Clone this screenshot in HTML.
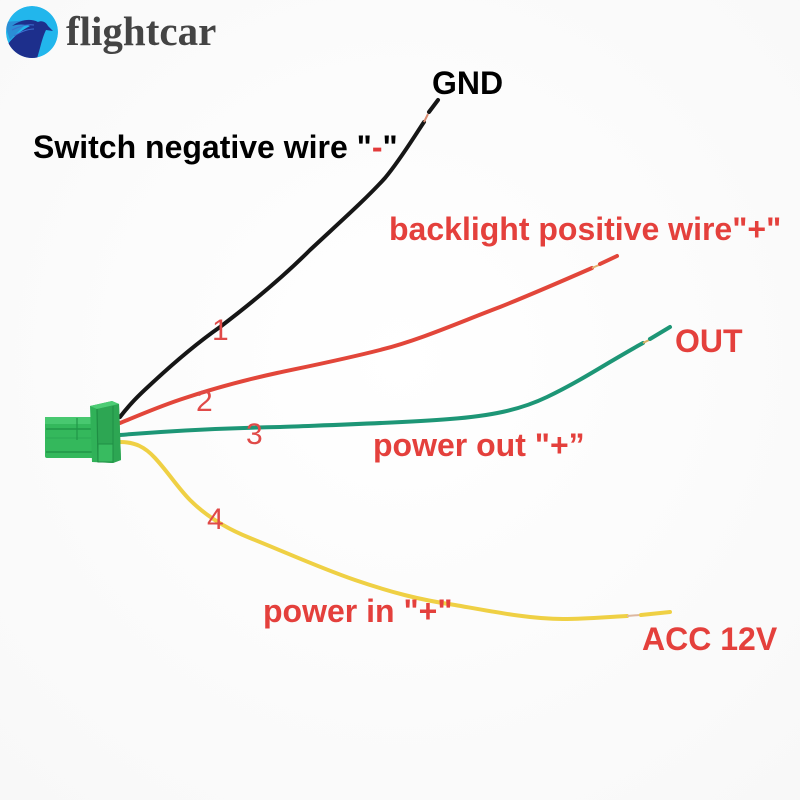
<!DOCTYPE html>
<html>
<head>
<meta charset="utf-8">
<style>
  html,body{margin:0;padding:0;background:#fff;}
  svg{display:block;}
  .lbl{font-family:"Liberation Sans",Arial,sans-serif;font-weight:bold;font-size:32px;}
  .num{font-family:"Liberation Sans",Arial,sans-serif;font-size:30px;fill:#e04a48;}
</style>
</head>
<body>
<svg width="800" height="800" viewBox="0 0 800 800" xmlns="http://www.w3.org/2000/svg">
  <defs>
    <radialGradient id="bg" cx="50%" cy="45%" r="75%">
      <stop offset="0" stop-color="#ffffff"/>
      <stop offset="1" stop-color="#f8f8f8"/>
    </radialGradient>
    <clipPath id="cc"><circle cx="32" cy="32" r="26"/></clipPath>
  </defs>
  <rect width="800" height="800" fill="url(#bg)"/>

  <!-- Logo -->
  <g clip-path="url(#cc)">
    <circle cx="32" cy="32" r="26" fill="#22b6ec"/>
    <path d="M4 22 L30 20 L10 40 Z" fill="#2a8fd6"/>
    <path d="M8 44 C14 36 22 30 30 26 C24 24 18 24 12 26 C20 20 30 18 38 22 C42 20 46 22 48 26 L53 31 L46 30 C44 34 42 40 40 48 L36 62 L14 62 Z" fill="#1d2f8c"/>
    <path d="M12 30 C20 26 28 24 34 25" stroke="#3d6fd0" stroke-width="1" fill="none"/>
    <path d="M14 36 C22 31 28 29 34 29" stroke="#3d6fd0" stroke-width="1" fill="none"/>
  </g>
  <text x="66" y="45" font-family="'Liberation Serif',serif" font-weight="bold" font-size="41" fill="#444">flightcar</text>

  <!-- Wires -->
  <!-- black -->
  <path d="M120 417 C130 404 138 396 150 385 C165 371 190 348 220 327 C245 308 280 280 310 250 C340 222 365 200 385 178 C400 160 412 140 424 122" stroke="#161616" stroke-width="4" fill="none" stroke-linecap="round"/>
  <path d="M424 122 L428 114" stroke="#d88a70" stroke-width="2" fill="none"/>
  <path d="M429 112 L438 100" stroke="#161616" stroke-width="4" fill="none" stroke-linecap="round"/>

  <!-- red -->
  <path d="M120 423 C140 415 160 406 185 398 C215 388 245 380 277 373 C310 366 345 359 380 350 C420 340 460 322 500 307 C530 295 560 282 592 268" stroke="#e2463a" stroke-width="4" fill="none" stroke-linecap="round"/>
  <path d="M592 268 L599 265" stroke="#e2b070" stroke-width="2" fill="none"/>
  <path d="M600 264 L617 256" stroke="#e2463a" stroke-width="4" fill="none" stroke-linecap="round"/>

  <!-- green -->
  <path d="M120 435 C180 430 230 428 280 427 C330 425 400 423 450 419 C490 416 520 410 547 397 C570 386 590 374 610 362 C622 355 632 349 643 343" stroke="#1d9676" stroke-width="4" fill="none" stroke-linecap="round"/>
  <path d="M643 343 L649 340" stroke="#d8b060" stroke-width="2" fill="none"/>
  <path d="M650 339 L670 327" stroke="#1d9676" stroke-width="4" fill="none" stroke-linecap="round"/>

  <!-- yellow -->
  <path d="M120 442 C135 442 145 447 155 458 C168 472 178 488 190 500 C205 515 225 528 250 538 C285 552 320 568 355 580 C390 592 420 600 455 605 C495 612 530 619 563 619 C590 619 605 617 627 616" stroke="#efd044" stroke-width="4" fill="none" stroke-linecap="round"/>
  <path d="M627 616 L640 615" stroke="#ddb8a0" stroke-width="2" fill="none"/>
  <path d="M641 615 L670 612" stroke="#efd044" stroke-width="4" fill="none" stroke-linecap="round"/>

  <!-- Connector -->
  <g>
    <rect x="45" y="417" width="54" height="41" rx="2" fill="#34b85c"/>
    <rect x="45" y="417" width="54" height="7" fill="#48c870"/>
    <line x1="46" y1="429" x2="98" y2="429" stroke="#219648" stroke-width="1.5"/>
    <line x1="46" y1="438" x2="98" y2="438" stroke="#2aa855" stroke-width="1"/>
    <line x1="46" y1="452" x2="98" y2="452" stroke="#219648" stroke-width="1.5"/>
    <line x1="77" y1="418" x2="77" y2="440" stroke="#219648" stroke-width="1.2"/>
    <path d="M90 406 L112 401 L119 404 L121 460 L113 463 L92 462 Z" fill="#30b158"/>
    <path d="M90 406 L112 401 L119 404 L97 409 Z" fill="#4ccc74"/>
    <path d="M97 409 L119 404 L121 460 L113 463 L98 462 Z" fill="#2da653"/>
    <line x1="97" y1="409" x2="98" y2="462" stroke="#1f8e44" stroke-width="1.2"/>
    <line x1="113" y1="406" x2="113" y2="462" stroke="#1f8e44" stroke-width="1"/>
    <rect x="98" y="444" width="15" height="18" fill="#38bb60" stroke="#1f8e44" stroke-width="1"/>
  </g>

  <!-- Labels -->
  <text x="432" y="94" class="lbl" font-size="31" fill="#000">GND</text>
  <text x="33" y="158" class="lbl" fill="#000">Switch negative wire "<tspan fill="#e23a3a">-</tspan>"</text>
  <text x="389" y="240" class="lbl" fill="#e4403c">backlight positive wire"+"</text>
  <text x="675" y="352" class="lbl" fill="#e4403c">OUT</text>
  <text x="373" y="456" class="lbl" fill="#e4403c">power out "+”</text>
  <text x="263" y="622" class="lbl" fill="#e4403c">power in "+"</text>
  <text x="642" y="650" class="lbl" fill="#e4403c">ACC 12V</text>

  <text x="212" y="340" class="num">1</text>
  <text x="196" y="411" class="num">2</text>
  <text x="246" y="444" class="num">3</text>
  <text x="207" y="529" class="num">4</text>
</svg>
</body>
</html>
